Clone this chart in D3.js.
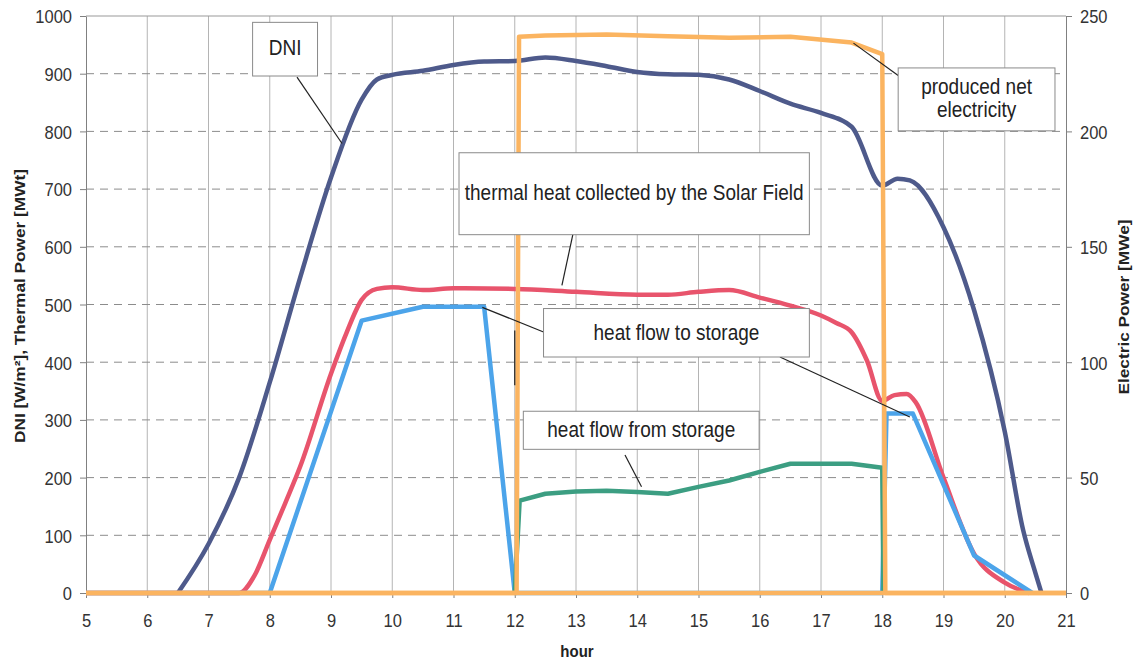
<!DOCTYPE html>
<html>
<head>
<meta charset="utf-8">
<script src="https://cdn.jsdelivr.net/npm/d3@7"></script>
<style>
    body { margin: 0; background: #fff; }
    svg { display: block; font-family: "Liberation Sans", Arial, sans-serif; }
</style>
</head>
<body>
<script>
//tick labels
var hourTicks = [5, 6, 7, 8, 9, 10, 11, 12, 13, 14, 15, 16, 17, 18, 19, 20, 21];
var leftTicks = [0, 100, 200, 300, 400, 500, 600, 700, 800, 900, 1000];
var rightTicks = [0, 50, 100, 150, 200, 250];

//DNI [W/m2]
var dniHours  = [6.5, 7, 7.5, 8, 8.5, 9, 9.5, 9.75, 10, 10.5, 11, 11.5, 12, 12.5, 13, 13.5, 14, 14.5, 15, 15.5, 16, 16.5, 17, 17.5, 18, 18.25, 18.45, 19, 19.5, 20, 20.3, 20.5, 20.6];
var dniValues = [0, 85, 200, 365, 548, 720, 855, 890, 898, 905, 915, 921, 922, 928, 922, 913, 903, 899, 898, 890, 870, 848, 832, 808, 706, 718, 715, 634, 490, 280, 109, 35, 0];

//thermal heat collected by the Solar Field [MWt]
var fieldHours  = [5, 7.5, 7.75, 8, 8.25, 8.5, 9, 9.25, 9.5, 9.75, 10, 10.5, 11, 12, 13, 14, 14.5, 15, 15.5, 16, 16.5, 17, 17.25, 17.5, 17.75, 18, 18.2, 18.4, 18.55, 19, 19.5, 20, 20.4];
var fieldValues = [0, 0, 30, 92, 155, 220, 380, 450, 508, 527, 530, 525, 528, 527, 522, 517, 517, 522, 525, 512, 498, 481, 468, 452, 403, 333, 343, 345, 330, 200, 68, 18, 0];

//heat flow to storage [MWt]
var toStoHours  = [5, 8, 9.5, 10.5, 11.5, 12, 18, 18.07, 18.5, 19.5, 20.45];
var toStoValues = [0, 0, 472, 496, 496, 0, 0, 311, 311, 65, 0];

//heat flow from storage [MWt]
var fromStoHours  = [12, 12.08, 12.5, 13, 13.5, 14, 14.5, 15, 15.5, 16, 16.5, 17.5, 18, 18.02];
var fromStoValues = [0, 160, 172, 176, 177, 175, 172, 184, 195, 210, 224, 224, 217, 0];

//produced net electricity [MWe], right axis
var elecHours  = [5, 12.03, 12.07, 12.5, 13.5, 14.5, 15.5, 16.5, 17.5, 18, 18.05, 21];
var elecValues = [0, 0, 241, 241.5, 242, 241.2, 240.6, 241, 238.5, 233.5, 0, 0];

window.onload = function(){
    var w = 1138, h = 659;
    var left = 86, right = 1066, top = 16, bottom = 593;
    var sy = 1.15; //the scan is stretched vertically, text too

    var svg = d3.select("body")
        .append("svg")
        .attr("width", w)
        .attr("height", h);

    var x = d3.scaleLinear().domain([5, 21]).range([left, right]);
    var y = d3.scaleLinear().domain([0, 1000]).range([bottom, top]);
    var y2 = d3.scaleLinear().domain([0, 250]).range([bottom, top]);

    //vertical grid, solid
    svg.append("g").selectAll("line")
        .data(hourTicks.slice(1, -1))
        .enter().append("line")
        .attr("x1", function(d){ return x(d); })
        .attr("x2", function(d){ return x(d); })
        .attr("y1", top).attr("y2", bottom)
        .style("stroke", "#b4b4b4").style("stroke-width", 1);

    //horizontal grid, dashed
    svg.append("g").selectAll("line")
        .data(leftTicks.slice(1, -1))
        .enter().append("line")
        .attr("x1", left).attr("x2", right)
        .attr("y1", function(d){ return y(d); })
        .attr("y2", function(d){ return y(d); })
        .style("stroke", "#8c8c8c").style("stroke-width", 1)
        .style("stroke-dasharray", "8,6");

    //top border
    svg.append("line")
        .attr("x1", left).attr("x2", right)
        .attr("y1", y(1000)).attr("y2", y(1000))
        .style("stroke", "#999");

    //axes
    var gLeft = svg.append("g")
        .attr("transform", "translate(" + left + ",0)")
        .call(d3.axisLeft(y).tickValues(leftTicks).tickFormat(d3.format("d")).tickSize(6).tickSizeOuter(0));
    gLeft.selectAll("text")
        .attr("x", 0).attr("dy", "0.36em")
        .attr("transform", "translate(-14,0) scale(1," + sy + ")");

    var gRight = svg.append("g")
        .attr("transform", "translate(" + right + ",0)")
        .call(d3.axisRight(y2).tickValues(rightTicks).tickFormat(d3.format("d")).tickSize(6).tickSizeOuter(0));
    gRight.selectAll("text")
        .attr("x", 0).attr("dy", "0.36em")
        .attr("transform", "translate(14,0) scale(1," + sy + ")");

    var gBottom = svg.append("g")
        .attr("transform", "translate(0," + bottom + ")")
        .call(d3.axisBottom(x).tickValues(hourTicks).tickFormat(d3.format("d")).tickSize(5).tickSizeOuter(0));
    gBottom.selectAll("text")
        .attr("y", 0).attr("dy", null)
        .attr("transform", "translate(0,33.5) scale(1," + sy + ")");

    svg.selectAll(".tick text")
        .style("font-size", "16.5px")
        .style("font-family", "'Liberation Sans', Arial, sans-serif")
        .style("fill", "#333");
    svg.selectAll(".domain, .tick line").style("stroke", "#808080");

    //axis titles
    svg.append("text")
        .attr("transform", "translate(19,306) scale(1," + sy + ") rotate(-90)")
        .attr("text-anchor", "middle")
        .attr("dominant-baseline", "central")
        .style("font-size", "15px").style("font-weight", "bold").style("fill", "#222")
        .text("DNI [W/m\u00b2], Thermal Power [MWt]");

    svg.append("text")
        .attr("transform", "translate(1123,307) scale(1," + sy + ") rotate(-90)")
        .attr("text-anchor", "middle")
        .attr("dominant-baseline", "central")
        .style("font-size", "15px").style("font-weight", "bold").style("fill", "#222")
        .text("Electric Power [MWe]");

    svg.append("text")
        .attr("transform", "translate(577,657) scale(1," + sy + ")")
        .attr("text-anchor", "middle")
        .style("font-size", "15px").style("font-weight", "bold").style("fill", "#222")
        .text("hour");

    //series
    function zip(hs, vs){
        return hs.map(function(d, i){ return {h: d, v: vs[i]}; });
    }
    var lineLeft = d3.line()
        .x(function(d){ return x(d.h); })
        .y(function(d){ return y(d.v); });
    var lineRight = d3.line()
        .x(function(d){ return x(d.h); })
        .y(function(d){ return y2(d.v); });

    var elecColor = "#fbb460";
    var series = [
        {data: zip(dniHours, dniValues), color: "#4e5a8b", smooth: true, gen: lineLeft},
        {data: zip(fieldHours, fieldValues), color: "#e8546c", smooth: true, gen: lineLeft},
        {data: zip(toStoHours, toStoValues), color: "#4ca4ea", smooth: false, gen: lineLeft},
        {data: zip(fromStoHours, fromStoValues), color: "#3c9e82", smooth: false, gen: lineLeft},
        {data: zip(elecHours, elecValues), color: elecColor, smooth: false, gen: lineRight}
    ];

    series.forEach(function(s){
        s.gen.curve(s.smooth ? d3.curveMonotoneX : d3.curveLinear);
        svg.append("path")
            .datum(s.data)
            .attr("d", s.gen)
            .style("fill", "none")
            .style("stroke", s.color)
            .style("stroke-width", 4.5)
            .style("stroke-linejoin", "round");
    });

    //zero level of the electricity axis, drawn over the other series like in the original
    svg.append("line")
        .attr("x1", x(5)).attr("x2", x(21))
        .attr("y1", y2(0)).attr("y2", y2(0))
        .style("stroke", elecColor)
        .style("stroke-width", 4.5);

    //callouts, placed in chart units (hour, left axis value)
    var leaders = [
        [[8.445, 894], [9.18, 779]],
        [[12.95, 622], [12.77, 533]],
        [[18.26, 897], [17.53, 953]],
        [[12.48, 452], [11.47, 495]],
        [[16.33, 409], [18.45, 305]],
        [[13.8, 239], [14.07, 184]],
        [[12.0, 455], [12.0, 360]]
    ];
    svg.append("g").selectAll("line")
        .data(leaders)
        .enter().append("line")
        .attr("x1", function(d){ return x(d[0][0]); })
        .attr("y1", function(d){ return y(d[0][1]); })
        .attr("x2", function(d){ return x(d[1][0]); })
        .attr("y2", function(d){ return y(d[1][1]); })
        .style("stroke", "#222").style("stroke-width", 1.2);

    var boxes = [
        {lines: ["DNI"], x0: 7.72, x1: 8.78, top: 989, bottom: 896, base: [932]},
        {lines: ["thermal heat collected by the Solar Field"], x0: 11.09, x1: 16.81, top: 763, bottom: 621, base: [681]},
        {lines: ["produced net", "electricity"], x0: 18.26, x1: 20.82, top: 910, bottom: 801, base: [865, 825]},
        {lines: ["heat flow to storage"], x0: 12.47, x1: 16.81, top: 493, bottom: 409, base: [439]},
        {lines: ["heat flow from storage"], x0: 12.14, x1: 15.99, top: 315, bottom: 249, base: [270]}
    ];

    var gBox = svg.append("g").selectAll("g")
        .data(boxes)
        .enter().append("g");
    gBox.append("rect")
        .attr("x", function(d){ return x(d.x0); })
        .attr("y", function(d){ return y(d.top); })
        .attr("width", function(d){ return x(d.x1) - x(d.x0); })
        .attr("height", function(d){ return y(d.bottom) - y(d.top); })
        .style("fill", "#fff")
        .style("stroke", "#8a8a8a")
        .style("stroke-width", 1);
    gBox.each(function(d){
        var g = d3.select(this);
        d.lines.forEach(function(t, i){
            g.append("text")
                .attr("transform", "translate(" + x((d.x0 + d.x1) / 2) + "," + y(d.base[i]) + ") scale(1," + sy + ")")
                .attr("text-anchor", "middle")
                .style("font-size", "19px")
                .style("fill", "#222")
                .text(t);
        });
    });
};
</script>
</body>
</html>
